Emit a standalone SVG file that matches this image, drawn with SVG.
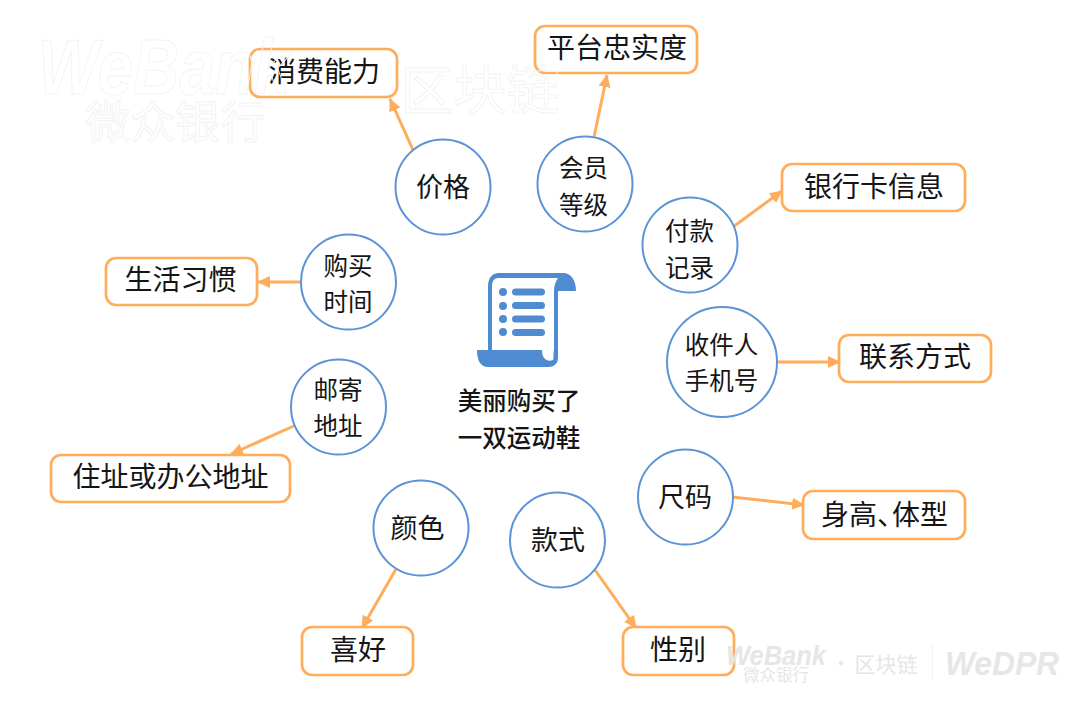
<svg xmlns="http://www.w3.org/2000/svg" width="1080" height="701" viewBox="0 0 1080 701">
<style>
text{font-family:"Noto Sans CJK SC","Noto Sans",sans-serif;fill:#151515;text-anchor:middle}
.c{fill:#fff;stroke:#5b93d6;stroke-width:2}
.b{fill:#fff;stroke:#ffad5b;stroke-width:2.700}
.l{stroke:#ffad5b;stroke-width:3;fill:none;marker-end:url(#a)}
.t28{font-size:28px}.t27{font-size:27px}.t24{font-size:24.500px}
</style>
<defs><marker id="a" markerUnits="userSpaceOnUse" markerWidth="14" markerHeight="14" refX="12" refY="7" orient="auto"><path d="M0 1 L13 7 L0 13 Z" fill="#ffad5b"/></marker></defs>
<rect width="1080" height="701" fill="#fff"/>
<g id="connectors">
<path class="l" d="M413 150L390 99"/>
<path class="l" d="M594 137L607 75"/>
<path class="l" d="M733 227L782 191"/>
<path class="l" d="M777 362L840 362"/>
<path class="l" d="M732 497L804 505"/>
<path class="l" d="M595 570L636 628"/>
<path class="l" d="M396 569L362 628"/>
<path class="l" d="M296 425L231 454"/>
<path class="l" d="M300 282L258 282"/>
</g>
<g id="n-jiage"><circle class="c" cx="443" cy="187" r="47.500"/><text class="t27" x="443" y="197">价格</text></g>
<g id="n-huiyuan"><circle class="c" cx="585" cy="184" r="47.500"/><text class="t24" x="583.500" y="177">会员</text><text class="t24" x="583.500" y="214">等级</text></g>
<g id="n-fukuan"><circle class="c" cx="690" cy="245" r="47.500"/><text class="t24" x="689.500" y="240">付款</text><text class="t24" x="689.500" y="277">记录</text></g>
<g id="n-shoujian"><circle class="c" cx="722" cy="362" r="55"/><text class="t24" x="721.500" y="354">收件人</text><text class="t24" x="721.500" y="390">手机号</text></g>
<g id="n-chima"><circle class="c" cx="685.500" cy="497" r="47.500"/><text class="t27" x="685" y="507">尺码</text></g>
<g id="n-kuanshi"><circle class="c" cx="557.500" cy="540" r="47.500"/><text class="t27" x="558" y="550">款式</text></g>
<g id="n-yanse"><circle class="c" cx="421" cy="528" r="47.500"/><text class="t27" x="417.500" y="538">颜色</text></g>
<g id="n-youji"><circle class="c" cx="338.500" cy="407" r="47.500"/><text class="t24" x="338" y="399">邮寄</text><text class="t24" x="338" y="435">地址</text></g>
<g id="n-goumai"><circle class="c" cx="348.500" cy="282" r="47.500"/><text class="t24" x="348" y="275">购买</text><text class="t24" x="348" y="311">时间</text></g>
<g id="b-xiaofei"><rect class="b" x="250" y="49" width="147" height="48" rx="10"/><text class="t28" x="324" y="82">消费能力</text></g>
<g id="b-pingtai"><rect class="b" x="535" y="26" width="162" height="47" rx="10"/><text class="t28" x="617" y="58">平台忠实度</text></g>
<g id="b-yinhang"><rect class="b" x="782" y="164" width="183" height="47" rx="10"/><text class="t28" x="874" y="197">银行卡信息</text></g>
<g id="b-lianxi"><rect class="b" x="839" y="335" width="152" height="47" rx="10"/><text class="t28" x="915" y="367">联系方式</text></g>
<g id="b-shengao"><rect class="b" x="803" y="491" width="162" height="48" rx="10"/><text class="t28" x="821" y="525" style="text-anchor:start">身高、<tspan dx="-13">体型</tspan></text></g>
<g id="b-xingbie"><rect class="b" x="623" y="627" width="111" height="48" rx="10"/><text class="t28" x="678" y="660">性别</text></g>
<g id="b-xihao"><rect class="b" x="302" y="627" width="111" height="48" rx="10"/><text class="t28" x="358" y="660">喜好</text></g>
<g id="b-zhuzhi"><rect class="b" x="51" y="455" width="239" height="47" rx="10"/><text class="t28" x="170.500" y="487">住址或办公地址</text></g>
<g id="b-shenghuo"><rect class="b" x="106" y="258" width="151" height="47" rx="10"/><text class="t28" x="180.500" y="290">生活习惯</text></g>
<g id="center">
<path fill="#4f8bd0" d="M499 273H563C571 273 576 280 576 291H558V358C558 364 553 367 549 367H488C481 367 477 361 477 350H488V287C488 278 492 273 499 273Z"/>
<path fill="#fff" d="M499 278H558C556 281 554 285 554 291V350C553 355 554 358 553 360C548 362 542 360 542 350H492V287C492 281 494 278 499 278Z"/>
<g fill="#4f8bd0"><circle cx="503" cy="292" r="4"/><circle cx="503" cy="306" r="4"/><circle cx="503" cy="319" r="4"/><circle cx="503" cy="332" r="4"/><rect x="512" y="288.500" width="33" height="7" rx="3.500"/><rect x="512" y="302" width="33" height="7" rx="3.500"/><rect x="512" y="315.500" width="33" height="7" rx="3.500"/><rect x="512" y="329" width="33" height="7" rx="3.500"/></g>
<text x="519" y="410" style="font-size:24.500px;font-weight:500">美丽购买了</text>
<text x="519" y="447" style="font-size:24.500px;font-weight:500">一双运动鞋</text>
</g>
<g id="watermark-top">
<text x="38" y="94" lengthAdjust="spacingAndGlyphs" textLength="252" style="text-anchor:start;font-family:'Liberation Sans',sans-serif;font-style:italic;font-weight:bold;font-size:78px;fill:none;stroke:#f3f3f3;stroke-width:1">WeBank</text>
<text x="175" y="139" style="font-size:45px;fill:none;stroke:#f3f3f3;stroke-width:1">微众银行</text>
<text x="480" y="110" style="font-size:53px;fill:none;stroke:#f3f3f3;stroke-width:1">区块链</text>
</g>
<g id="watermark-bottom">
<text x="726" y="665" lengthAdjust="spacingAndGlyphs" textLength="100" style="text-anchor:start;font-family:'Liberation Sans',sans-serif;font-style:italic;font-weight:bold;font-size:27px;fill:#e6e6e6">WeBank</text>
<text x="776" y="681" style="font-size:16.500px;fill:#e6e6e6">微众银行</text>
<text x="841" y="671" style="font-size:20px;fill:#e6e6e6">·</text>
<text x="886" y="672" style="font-size:21px;fill:#e6e6e6">区块链</text>
<rect x="932" y="645" width="1" height="36" fill="#f2f2f2"/>
<text x="945" y="675" lengthAdjust="spacingAndGlyphs" textLength="114" style="text-anchor:start;font-family:'Liberation Sans',sans-serif;font-style:italic;font-weight:bold;font-size:33px;fill:#e6e6e6">WeDPR</text>
</g>
</svg>
